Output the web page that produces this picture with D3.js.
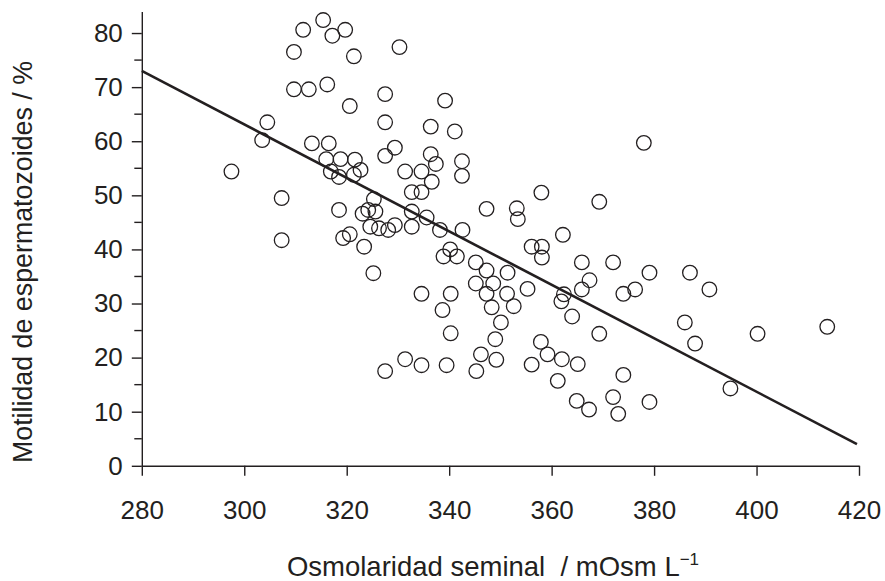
<!DOCTYPE html>
<html>
<head>
<meta charset="utf-8">
<script src="https://cdn.jsdelivr.net/npm/d3@7/dist/d3.min.js"></script>
<style>
  html, body { margin: 0; padding: 0; background: #ffffff; }
  svg { display: block; }
  text { font-family: "Liberation Sans", Arial, Helvetica, sans-serif; fill: #231f20; }
</style>
</head>
<body>
<svg id="chart" width="885" height="581"></svg>
<script>
// ---- Data ----
const osmolarity = [315.4, 311.5, 317.2, 319.7, 309.7, 321.4, 330.3, 309.7, 312.6, 316.2, 327.5, 320.6, 304.5, 327.5, 339.2, 303.5, 313.2, 316.5, 329.4, 327.5, 316.0, 318.8, 321.6, 336.4, 341.1, 336.4, 337.4, 342.5, 342.5, 297.5, 316.9, 318.5, 321.4, 322.7, 331.4, 334.6, 336.6, 332.7, 334.6, 307.3, 325.3, 318.5, 323.1, 324.2, 325.6, 332.7, 335.6, 358.0, 369.3, 378.0, 347.3, 353.2, 353.4, 332.7, 324.6, 326.3, 328.1, 329.4, 338.2, 342.6, 307.3, 319.3, 320.6, 323.4, 325.2, 340.2, 338.9, 341.5, 345.2, 347.3, 351.4, 356.1, 358.1, 358.1, 362.2, 365.9, 372.0, 379.1, 387.0, 390.8, 345.2, 348.6, 347.3, 351.3, 355.3, 334.6, 340.3, 367.4, 365.9, 362.4, 361.9, 374.0, 376.3, 338.7, 348.3, 352.6, 350.1, 364.0, 386.0, 340.3, 349.0, 357.9, 369.3, 388.0, 400.2, 413.8, 394.9, 359.2, 362.0, 365.1, 356.1, 361.2, 364.9, 367.3, 374.0, 372.0, 373.0, 379.1, 331.4, 327.5, 334.6, 339.5, 346.2, 349.2, 345.3];
const motility = [82.4, 80.6, 79.5, 80.6, 76.5, 75.7, 77.4, 69.6, 69.6, 70.5, 68.7, 66.5, 63.5, 63.5, 67.5, 60.2, 59.6, 59.6, 58.8, 57.3, 56.7, 56.7, 56.6, 62.7, 61.8, 57.6, 55.8, 56.3, 53.6, 54.4, 54.4, 53.4, 53.8, 54.7, 54.4, 54.4, 52.5, 50.6, 50.6, 49.5, 49.3, 47.3, 46.6, 47.3, 47.0, 47.0, 45.9, 50.5, 48.8, 59.7, 47.5, 47.6, 45.6, 44.2, 44.2, 43.9, 43.6, 44.5, 43.6, 43.6, 41.7, 42.1, 42.8, 40.5, 35.6, 40.0, 38.7, 38.7, 37.6, 36.1, 35.7, 40.5, 40.5, 38.5, 42.7, 37.6, 37.6, 35.7, 35.7, 32.6, 33.7, 33.7, 31.8, 31.8, 32.7, 31.8, 31.8, 34.3, 32.6, 31.7, 30.4, 31.8, 32.6, 28.8, 29.3, 29.5, 26.5, 27.6, 26.5, 24.5, 23.4, 22.9, 24.4, 22.6, 24.4, 25.7, 14.3, 20.6, 19.7, 18.8, 18.7, 15.7, 12.0, 10.4, 16.8, 12.7, 9.6, 11.8, 19.7, 17.5, 18.6, 18.6, 20.6, 19.6, 17.5];

// regression line end points
const fitX = [280, 419.6];
const fitY = [73.0, 4.0];

const xTicks = [280, 300, 320, 340, 360, 380, 400, 420];
const yTicks = [0, 10, 20, 30, 40, 50, 60, 70, 80];
const yMinorTicks = [5, 15, 25, 35, 45, 55, 65, 75];
const xDomain = [280, 420];
const yDomain = [0, 84];

const xTitle = "Osmolaridad seminal  / mOsm L";
const xTitleSup = "\u22121";
const yTitle = "Motilidad de espermatozoides / %";

// ---- Drawing ----
const svg = d3.select("#chart");
const ink = "#231f20";

const x = d3.scaleLinear().domain(xDomain).range([141.8, 859]);
const y = d3.scaleLinear().domain(yDomain).range([465.8, 11.4]);

const tickFont = 26;

// X axis
const gx = svg.append("g")
  .attr("transform", `translate(0,${y(0)})`)
  .call(d3.axisBottom(x).tickValues(xTicks).tickSize(10).tickPadding(25).tickSizeOuter(0).tickFormat(d3.format("d")));
gx.select(".domain").attr("stroke", ink).attr("stroke-width", 1.4);
gx.selectAll(".tick line").attr("stroke", ink).attr("stroke-width", 1.4);
gx.selectAll(".tick text").attr("font-size", tickFont).attr("fill", ink)
  .style("font-family", '"Liberation Sans", Arial, sans-serif');

// Y axis
const gy = svg.append("g")
  .attr("transform", `translate(${x(280)},0)`)
  .call(d3.axisLeft(y).tickValues(yTicks).tickSize(10).tickPadding(9).tickSizeOuter(0).tickFormat(d3.format("d")));
gy.select(".domain").attr("stroke", ink).attr("stroke-width", 1.4);
gy.selectAll(".tick line").attr("stroke", ink).attr("stroke-width", 1.4);
gy.selectAll(".tick text").attr("font-size", tickFont).attr("fill", ink)
  .style("font-family", '"Liberation Sans", Arial, sans-serif');

// Y minor ticks
gy.selectAll(".minor")
  .data(yMinorTicks)
  .enter().append("line")
  .attr("class", "minor")
  .attr("x1", -7.5).attr("x2", 0)
  .attr("y1", d => y(d)).attr("y2", d => y(d))
  .attr("stroke", ink).attr("stroke-width", 1.4);

// Points
const pts = osmolarity.map((v, i) => ({ x: v, y: motility[i] }));
svg.append("g")
  .selectAll("circle")
  .data(pts)
  .enter().append("circle")
  .attr("cx", d => x(d.x))
  .attr("cy", d => y(d.y))
  .attr("r", 7.3)
  .attr("fill", "none")
  .attr("stroke", ink)
  .attr("stroke-width", 1.3);

// Regression line
const fit = fitX.map((v, i) => ({ x: v, y: fitY[i] }));
svg.append("path")
  .datum(fit)
  .attr("d", d3.line().x(d => x(d.x)).y(d => y(d.y)))
  .attr("fill", "none")
  .attr("stroke", ink)
  .attr("stroke-width", 2.6);

// X title
const xt = svg.append("text")
  .attr("x", 493)
  .attr("y", 576)
  .attr("text-anchor", "middle")
  .attr("font-size", 27.5)
  .style("white-space", "pre")
  .attr("xml:space", "preserve");
xt.append("tspan").text(xTitle);
xt.append("tspan").attr("font-size", 17).attr("dy", -11).text(xTitleSup);

// Y title
svg.append("text")
  .attr("transform", "translate(32,262) rotate(-90)")
  .attr("text-anchor", "middle")
  .attr("font-size", 26.8)
  .text(yTitle);
</script>
</body>
</html>
